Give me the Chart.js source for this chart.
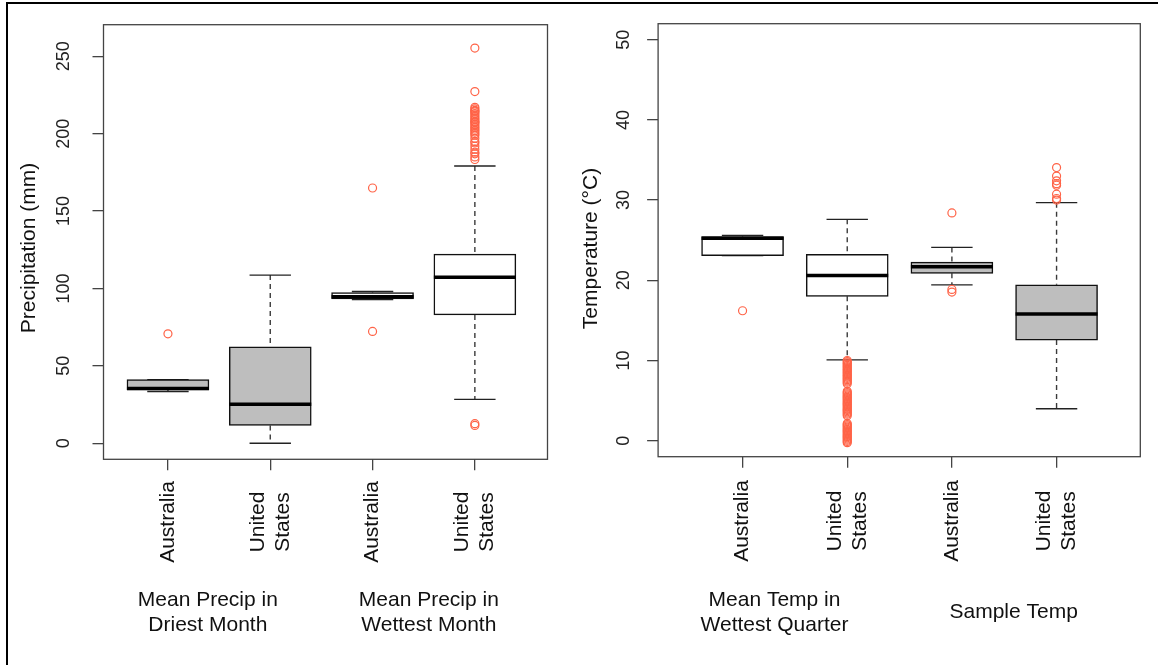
<!DOCTYPE html>
<html><head><meta charset="utf-8">
<script src="https://cdn.jsdelivr.net/npm/chart.js@4"></script>
<style>
html,body{margin:0;padding:0;background:#fff;}
#wrap{position:relative;width:1158px;height:665px;overflow:hidden;background:#fff;}
#frame{position:absolute;left:6px;top:2px;width:1200px;height:700px;border-top:2px solid #000;border-left:2px solid #000;}
canvas{position:absolute;top:0;}
</style></head><body>
<div id="wrap"><div id="frame"></div>
<canvas id="c1" width="580" height="665" style="left:0"></canvas>
<canvas id="c2" width="578" height="665" style="left:580px"></canvas>
</div>
<script>
// ---------- data ----------
const countries = [['Australia'], ['United', 'States'], ['Australia'], ['United', 'States']];
const precipGroups = [['Mean Precip in', 'Driest Month'], ['Mean Precip in', 'Wettest Month']];
const tempGroups = [['Mean Temp in', 'Wettest Quarter'], ['Sample Temp']];
const precipTicks = [0, 50, 100, 150, 200, 250];
const tempTicks = [0, 10, 20, 30, 40, 50];

const precipLow    = [33.4, 0.0, 92.8, 28.3];
const precipQ1     = [34.5, 11.5, 93.3, 82.9];
const precipMedian = [35.3, 25.1, 94.6, 107.2];
const precipQ3     = [41.1, 62.2, 97.3, 122.2];
const precipHigh   = [41.1, 108.6, 98.0, 179.1];
const precipOutliers = [
  [70.7],
  [],
  [164.9, 72.2],
  [255.3, 227.2, 217, 216, 215, 214.5, 214, 213, 212, 211, 210, 209, 208, 207.5, 207, 206, 205, 204, 203, 202,
   201, 200, 199, 197, 195, 194, 192, 190, 188, 187, 185, 183.3, 12.6, 11.5]
];

const tempLow    = [23.08, 10.08, 19.43, 3.98];
const tempQ1     = [23.08, 18.0, 20.87, 12.54];
const tempMedian = [25.25, 20.6, 21.69, 15.79];
const tempQ3     = [25.45, 23.24, 22.26, 19.43];
const tempHigh   = [25.6, 27.6, 24.1, 29.68];
const tempOutliers = [
  [16.2],
  [10.0, 9.85, 9.7, 9.55, 9.4, 9.25, 9.1, 8.95, 8.8, 8.65, 8.5, 8.35, 8.2, 8.05, 7.9, 7.75, 7.6, 7.45, 7.3, 7.1,
   6.15, 6.0, 5.85, 5.7, 5.55, 5.4, 5.25, 5.1, 4.95, 4.8, 4.65, 4.5, 4.35, 4.2, 4.05, 3.9, 3.75, 3.6, 3.45, 3.3, 3.1,
   2.15, 2.0, 1.85, 1.7, 1.55, 1.4, 1.25, 1.1, 0.95, 0.8, 0.65, 0.5, 0.35, 0.2, 0.05, -0.1, -0.25],
  [28.4, 18.86, 18.53],
  [34.06, 33.0, 32.4, 32.05, 31.85, 30.74, 30.2, 30.0]
];

const GRAY = '#bebebe', WHITE = '#ffffff';
const FONT = '"Liberation Sans", Arial, Helvetica, sans-serif';

// ---------- helpers ----------
function buildDatasets(low, q1, med, q3, high, outliers, fills) {
  const pos = low.map((_, i) => i + 1);
  const ds = [];
  pos.forEach((x, i) => {
    ds.push({
      type: 'line',
      data: [{x, y: high[i]}, {x, y: q3[i]}, {x, y: null}, {x, y: q1[i]}, {x, y: low[i]}],
      borderColor: '#3a3a3a', borderWidth: 1.4, borderDash: [5, 4],
      pointRadius: 0, spanGaps: false, fill: false, order: 6
    });
  });
  ds.push({
    type: 'scatter',
    data: pos.flatMap((x, i) => [{x, y: high[i]}, {x, y: low[i]}]),
    pointStyle: 'line', pointRadius: 20.7, pointBorderWidth: 1.4,
    pointBorderColor: '#222', borderColor: '#222', order: 5
  });
  ds.push({
    type: 'bar',
    data: pos.map((x, i) => ({x, y: [q1[i], q3[i]]})),
    backgroundColor: fills, borderColor: '#111', borderWidth: 1.5,
    borderSkipped: false, barThickness: 82, order: 4
  });
  ds.push({
    type: 'scatter',
    data: pos.map((x, i) => ({x, y: med[i]})),
    pointStyle: 'line', pointRadius: 41, pointBorderWidth: 3.5,
    pointBorderColor: '#000', borderColor: '#000', order: 3
  });
  ds.push({
    type: 'scatter',
    data: pos.flatMap((x, i) => outliers[i].map(y => ({x, y}))),
    pointStyle: 'circle', pointRadius: 4, pointBorderWidth: 1.2,
    pointBorderColor: '#ff6347', pointBackgroundColor: 'rgba(255,255,255,0)',
    borderColor: '#ff6347', order: 1
  });
  return ds;
}

function labelPlugin(p) {
  return {
    id: 'boxLabels',
    afterDraw(chart) {
      const {ctx, chartArea: a, scales: {x}} = chart;
      ctx.save();
      ctx.strokeStyle = '#444'; ctx.lineWidth = 1.3;
      ctx.strokeRect(a.left, a.top, a.right - a.left, a.bottom - a.top);
      ctx.fillStyle = '#111';
      ctx.font = '21px ' + FONT;
      ctx.textAlign = 'center'; ctx.textBaseline = 'middle';
      // y-axis title
      ctx.save();
      ctx.translate(p.titleX, p.titleY);
      ctx.rotate(-Math.PI / 2);
      ctx.fillText(p.title, 0, 0);
      ctx.restore();
      // category labels
      countries.forEach((lines, i) => {
        const px = x.getPixelForValue(i + 1);
        lines.forEach((t, j) => {
          const dx = (j - (lines.length - 1) / 2) * 25;
          ctx.save();
          ctx.translate(px + dx, p.labelY);
          ctx.rotate(-Math.PI / 2);
          ctx.fillText(t, 0, 0);
          ctx.restore();
        });
      });
      // group labels
      ctx.textBaseline = 'alphabetic';
      p.groups.forEach((lines, g) => {
        const px = x.getPixelForValue(p.groupAt[g]);
        lines.forEach((t, j) => ctx.fillText(t, px, p.groupBase[g] + j * 25));
      });
      ctx.restore();
    }
  };
}

function makeChart(canvas, p) {
  const gridOpts = {display: true, drawOnChartArea: false, drawTicks: true, tickLength: 11,
                    color: '#444', lineWidth: 1.3, offset: false};
  return new Chart(canvas, {
    type: 'bar',
    data: {datasets: p.datasets},
    options: {
      responsive: false, animation: false, events: [],
      layout: {padding: p.padding, autoPadding: false},
      plugins: {legend: {display: false}, tooltip: {enabled: false}},
      scales: {
        x: {
          type: 'linear', min: p.xmin, max: p.xmax, offset: false,
          afterBuildTicks: s => { s.ticks = countries.map((_, i) => ({value: i + 1})); },
          afterFit: s => { s.height = p.xh; },
          grid: gridOpts, border: {display: false},
          ticks: {display: false}
        },
        y: {
          type: 'linear', min: p.ymin, max: p.ymax,
          afterBuildTicks: s => { s.ticks = p.ticks.map(v => ({value: v})); },
          afterFit: s => { s.width = p.yw; },
          grid: gridOpts, border: {display: false},
          ticks: {display: true, autoSkip: false, minRotation: 90, maxRotation: 90,
                  crossAlign: 'center', padding: p.tickPad, color: '#222',
                  font: {family: FONT, size: 18}, callback: v => String(v)},
          title: {display: false}
        }
      }
    },
    plugins: [labelPlugin(p)]
  });
}

makeChart(document.getElementById('c1'), {
  datasets: buildDatasets(precipLow, precipQ1, precipMedian, precipQ3, precipHigh, precipOutliers,
                          [GRAY, GRAY, WHITE, WHITE]),
  padding: {left: 18.7, top: 20, right: 32.5, bottom: 0},
  xmin: 0.37, xmax: 4.71, xh: 205.7,
  ymin: -10.4, ymax: 270.4, yw: 84.8, ticks: precipTicks, tickPad: 13.9,
  title: 'Precipitation (mm)', titleX: 29.2, titleY: 248,
  labelY: 522, groups: precipGroups, groupAt: [1.39, 3.55], groupBase: [606, 606]
});

makeChart(document.getElementById('c2'), {
  datasets: buildDatasets(tempLow, tempQ1, tempMedian, tempQ3, tempHigh, tempOutliers,
                          [WHITE, WHITE, GRAY, GRAY]),
  padding: {left: 0.5, top: 17.7, right: 17.7, bottom: 0},
  xmin: 0.193, xmax: 4.80, xh: 208.3,
  ymin: -2, ymax: 52, yw: 77.6, ticks: tempTicks, tickPad: 12.9,
  title: 'Temperature (°C)', titleX: 11, titleY: 248.5,
  labelY: 521, groups: tempGroups, groupAt: [1.305, 3.59], groupBase: [606, 617.5]
});
</script>
</body></html>
